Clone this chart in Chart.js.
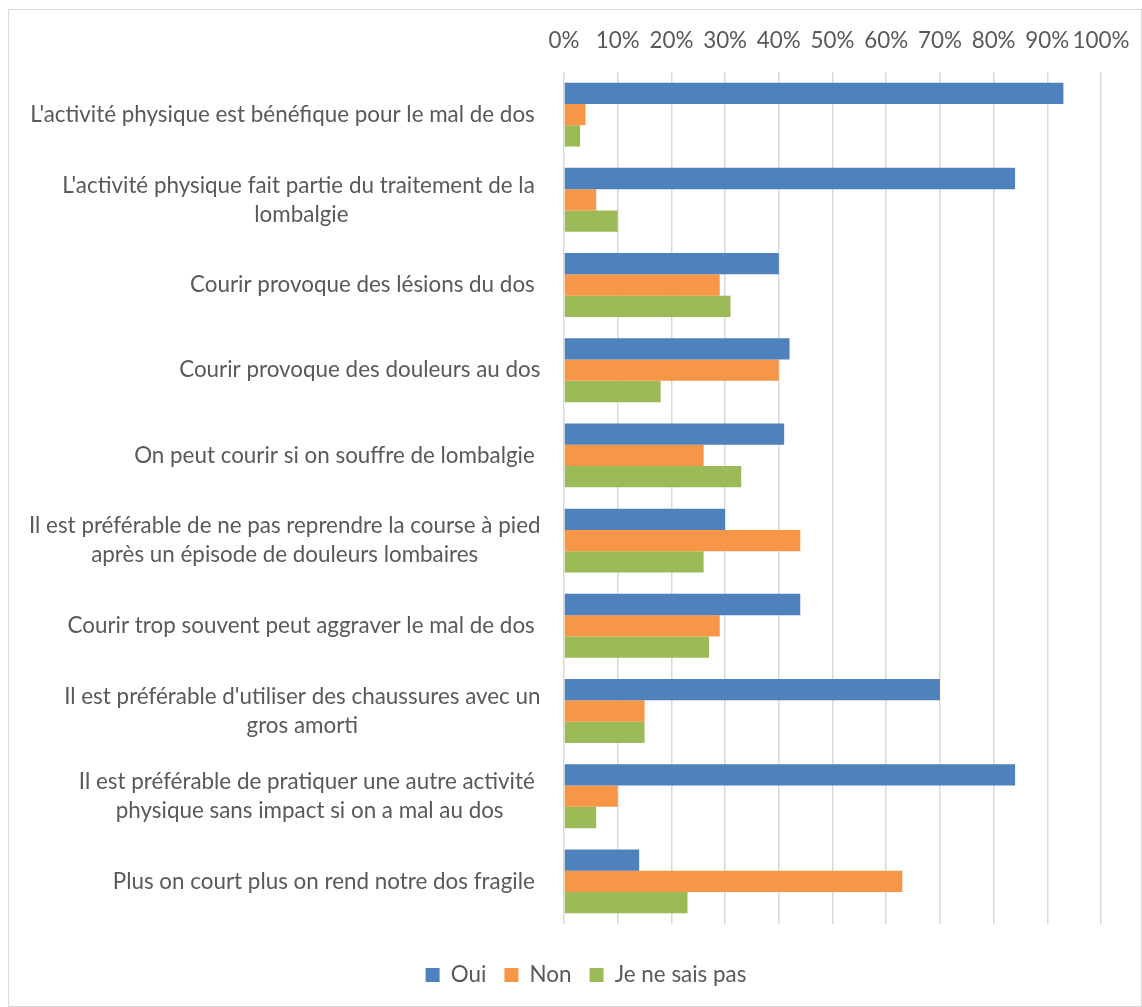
<!DOCTYPE html>
<html>
<head>
<meta charset="utf-8">
<script src="https://cdn.jsdelivr.net/npm/chart.js@4/dist/chart.umd.min.js"></script>
<style>
  html, body { margin: 0; padding: 0; background: #fff; }
  #wrap { position: relative; width: 1142px; height: 1007px; }
  #frame { position: absolute; left: 8px; top: 9px; width: 1132px; height: 996px; border: 1px solid #d9d9d9; pointer-events: none; }
  canvas { position: absolute; left: 0; top: 0; }
</style>
</head>
<body>
<div id="wrap">
  <canvas id="chart" width="1142" height="1007"></canvas>
  <div id="frame"></div>
</div>
<script>
// one entry per question, split the way the labels wrap in the picture
const questions = [
  ["L'activité physique est bénéfique pour le mal de dos "],
  ["L'activité physique fait partie du traitement de la ", "lombalgie"],
  ["Courir provoque des lésions du dos "],
  ["Courir provoque des douleurs au dos"],
  ["On peut courir si on souffre de lombalgie "],
  ["Il est préférable de ne pas reprendre la course à pied", "après un épisode de douleurs lombaires"],
  ["Courir trop souvent peut aggraver le mal de dos "],
  ["Il est préférable d'utiliser des chaussures avec un", "gros amorti"],
  ["Il est préférable de pratiquer une autre activité ", "physique sans impact si on a mal au dos"],
  ["Plus on court plus on rend notre dos fragile "]
];
const seriesNames = ['Oui', 'Non', 'Je ne sais pas'];
const oui = [93, 84, 40, 42, 41, 30, 44, 70, 84, 14];
const non = [4, 6, 29, 40, 26, 44, 29, 15, 10, 63];
const nsp = [3, 10, 31, 18, 33, 26, 27, 15, 6, 23];

const FONT = 'Lato, "Open Sans", sans-serif';
const TEXT = '#595959';
const LABEL_SIZE = 22.4;
const LABEL_RIGHT = 540.5;
const LINE_H = 29;

// excel keeps the wrapped lines centred on each other, right-aligned as a block
const categoryLabels = {
  id: 'categoryLabels',
  afterDraw(chart) {
    const { ctx } = chart;
    const y = chart.scales.y;
    ctx.save();
    ctx.font = `${LABEL_SIZE}px ${FONT}`;
    ctx.fillStyle = TEXT;
    ctx.textAlign = 'left';
    ctx.textBaseline = 'middle';
    questions.forEach((lines, i) => {
      const cy = y.getPixelForValue(i);
      const widths = lines.map(l => ctx.measureText(l).width);
      const w = Math.max(...widths);
      const cx = LABEL_RIGHT - w / 2;
      lines.forEach((l, j) => {
        ctx.fillText(l, cx - widths[j] / 2, cy + (j - (lines.length - 1) / 2) * LINE_H);
      });
    });
    ctx.restore();
  }
};

new Chart(document.getElementById('chart'), {
  type: 'bar',
  plugins: [categoryLabels],
  data: {
    labels: questions.map(q => q.join(' ').trim()),
    datasets: [
      { label: seriesNames[0], data: oui, backgroundColor: '#4f81bd' },
      { label: seriesNames[1], data: non, backgroundColor: '#f79646' },
      { label: seriesNames[2], data: nsp, backgroundColor: '#9bbb59' }
    ]
  },
  options: {
    indexAxis: 'y',
    responsive: false,
    animation: false,
    datasets: {
      bar: { categoryPercentage: 0.75, barPercentage: 1, borderWidth: 0 }
    },
    layout: { padding: { left: 71, right: 41, top: 0, bottom: 10.8 } },
    scales: {
      x: {
        position: 'top',
        min: 0,
        max: 100,
        // the outer padding already leaves room for the "100%" label
        afterFit: s => { s.height = 72; s.paddingLeft = 0; s.paddingRight = 0; },
        border: { display: false },
        grid: { color: '#d9d9d9', lineWidth: 1.5, drawTicks: false },
        ticks: {
          stepSize: 10,
          padding: 17.5,
          autoSkip: false,
          maxRotation: 0,
          minRotation: 0,
          color: TEXT,
          font: { family: FONT, size: 22.4 },
          callback: v => v + '%'
        }
      },
      y: {
        afterFit: s => { s.width = 493; },
        border: { display: false },
        grid: { display: false },
        ticks: { display: false }
      }
    },
    plugins: {
      tooltip: { enabled: false },
      legend: {
        position: 'bottom',
        title: { display: true, text: ' ', font: { size: 10, lineHeight: 1 }, padding: { top: 11.8, bottom: 0 } },
        labels: {
          boxWidth: 14,
          boxHeight: 14,
          padding: 18,
          color: TEXT,
          font: { family: FONT, size: 22.4 }
        }
      }
    }
  }
});
</script>
</body>
</html>
